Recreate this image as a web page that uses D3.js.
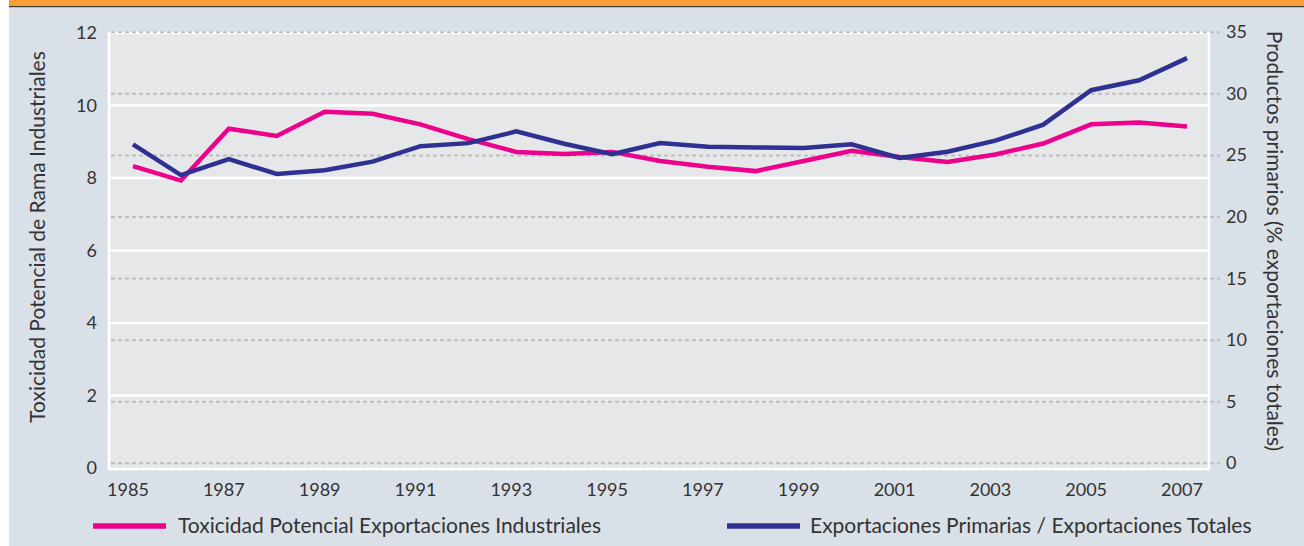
<!DOCTYPE html>
<html lang="es">
<head>
<meta charset="utf-8">
<title>Toxicidad potencial y exportaciones primarias</title>
<script src="https://cdn.jsdelivr.net/npm/d3@7"></script>
<style>
  body { margin: 0; background: #fff; }
  text { font-family: "Lato", "Open Sans", sans-serif; fill: #333; }
  .tick-label { font-size: 18px; }
  .axis-title { font-size: 21px; text-anchor: middle; }
  .legend-text { font-size: 21px; }
</style>
</head>
<body>
<div id="chart"></div>
<script>
// data
var years = d3.range(1985, 2008);
var toxicidad = [8.33, 7.93, 9.36, 9.16, 9.83, 9.77, 9.48, 9.07, 8.72, 8.66, 8.72, 8.47,
                 8.31, 8.19, 8.47, 8.75, 8.58, 8.44, 8.65, 8.95, 9.48, 9.53, 9.42];
var primarias = [25.9, 23.4, 24.7, 23.5, 23.8, 24.5, 25.75, 26.0, 26.95, 25.95, 25.1, 26.0,
                 25.7, 25.65, 25.6, 25.9, 24.8, 25.3, 26.2, 27.5, 30.3, 31.1, 32.9];
var leftTicks = [0, 2, 4, 6, 8, 10, 12];
var rightTicks = [0, 5, 10, 15, 20, 25, 30, 35];
var yearTicks = d3.range(1985, 2008, 2);
var seriesNames = ["Toxicidad Potencial Exportaciones Industriales",
                   "Exportaciones Primarias / Exportaciones Totales"];
var colors = ["#ec008c", "#2e3192"];

var W = 1304, H = 546;
var plot = {left: 109, right: 1209, top: 32, bottom: 468};

var svg = d3.select("#chart").append("svg")
    .attr("width", W).attr("height", H);

// panel background + orange header
svg.append("rect").attr("x", 9).attr("y", 0).attr("width", W - 9).attr("height", H)
   .attr("fill", "#d9e0e7");
svg.append("rect").attr("x", 9).attr("y", 0).attr("width", W - 9).attr("height", 6)
   .attr("fill", "#f6a035");
svg.append("rect").attr("x", 9).attr("y", 6).attr("width", W - 9).attr("height", 1.2)
   .attr("fill", "#3b3b3b");

var x = d3.scaleLinear().domain([1985, 2007]).range([133, 1187]);
var yL = d3.scaleLinear().domain([0, 12]).range([468, 33]);
var yR = d3.scaleLinear().domain([0, 35]).range([463.3, 32.3]);

// plot area
svg.append("rect")
   .attr("x", plot.left).attr("y", plot.top)
   .attr("width", plot.right - plot.left).attr("height", plot.bottom - plot.top)
   .attr("fill", "#e6e7e9");
svg.append("line")
   .attr("x1", plot.left).attr("x2", plot.left)
   .attr("y1", plot.top).attr("y2", plot.bottom + 2)
   .attr("stroke", "#fff").attr("stroke-width", 2.5);

// white gridlines on left axis
svg.append("g").selectAll("line").data(leftTicks.filter(function(d){ return d > 0; })).enter()
   .append("line")
   .attr("x1", plot.left).attr("x2", plot.right)
   .attr("y1", function(d){ return yL(d); }).attr("y2", function(d){ return yL(d); })
   .attr("stroke", "#fff").attr("stroke-width", 2.5);
svg.append("line")
   .attr("x1", plot.left).attr("x2", plot.right)
   .attr("y1", yL(0) + 1).attr("y2", yL(0) + 1)
   .attr("stroke", "#fff").attr("stroke-width", 2.5);

// dashed gridlines on right axis
svg.append("g").selectAll("line").data(rightTicks).enter()
   .append("line")
   .attr("x1", plot.left + 2).attr("x2", 1220)
   .attr("y1", function(d){ return yR(d); }).attr("y2", function(d){ return yR(d); })
   .attr("stroke", "#bdbdbd").attr("stroke-width", 2)
   .attr("stroke-dasharray", "4,3");

// right white border of plot
svg.append("line")
   .attr("x1", plot.right).attr("x2", plot.right)
   .attr("y1", plot.top).attr("y2", plot.bottom + 2)
   .attr("stroke", "#fff").attr("stroke-width", 2.5);

// tick labels
svg.append("g").selectAll("text").data(leftTicks).enter()
   .append("text").attr("class", "tick-label")
   .attr("x", 97).attr("y", function(d){ return yL(d) + 6; })
   .attr("text-anchor", "end")
   .text(function(d){ return d; });

svg.append("g").selectAll("text").data(rightTicks).enter()
   .append("text").attr("class", "tick-label")
   .attr("x", 1226).attr("y", function(d){ return yR(d) + 6; })
   .text(function(d){ return d; });

svg.append("g").selectAll("text").data(yearTicks).enter()
   .append("text").attr("class", "tick-label")
   .attr("x", function(d){ return x(d) - 5; }).attr("y", 496)
   .attr("text-anchor", "middle")
   .text(function(d){ return d; });

// axis titles
svg.append("text").attr("class", "axis-title")
   .attr("transform", "translate(45," + 237 + ") rotate(-90)")
   .text("Toxicidad Potencial de Rama Industriales");
svg.append("text").attr("class", "axis-title")
   .attr("transform", "translate(1267," + 241 + ") rotate(90)")
   .text("Productos primarios (% exportaciones totales)");

// lines
var lineL = d3.line().x(function(d, i){ return x(years[i]); }).y(function(d){ return yL(d); });
var lineR = d3.line().x(function(d, i){ return x(years[i]); }).y(function(d){ return yR(d); });

svg.append("path").datum(toxicidad)
   .attr("d", lineL).attr("fill", "none")
   .attr("stroke", colors[0]).attr("stroke-width", 4.5);
svg.append("path").datum(primarias)
   .attr("d", lineR).attr("fill", "none")
   .attr("stroke", colors[1]).attr("stroke-width", 4.5);

// legend
var legendX = [93, 727];
var legend = svg.append("g").selectAll("g").data(seriesNames).enter()
   .append("g")
   .attr("transform", function(d, i){ return "translate(" + legendX[i] + ",526)"; });
legend.append("line")
   .attr("x1", 0).attr("x2", 73).attr("y1", 0).attr("y2", 0)
   .attr("stroke", function(d, i){ return colors[i]; }).attr("stroke-width", 5.5);
legend.append("text").attr("class", "legend-text")
   .attr("x", function(d, i){ return i === 0 ? 85 : 83; }).attr("y", 7)
   .text(function(d){ return d; });
</script>
</body>
</html>
